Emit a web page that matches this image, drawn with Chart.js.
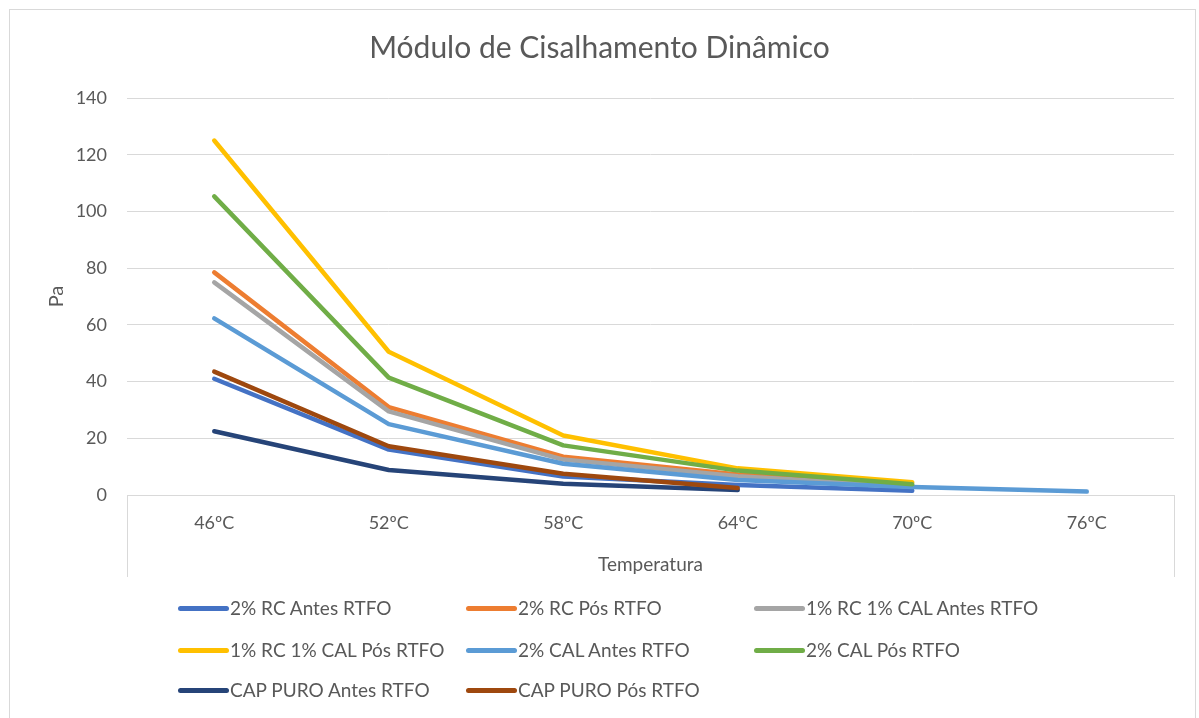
<!DOCTYPE html>
<html>
<head>
<meta charset="utf-8">
<script src="https://cdn.jsdelivr.net/npm/chart.js@4.4.0/dist/chart.umd.min.js"></script>
<style>
html,body{margin:0;padding:0;background:#fff;width:1199px;height:718px;overflow:hidden;font-family:Lato,sans-serif}
#frame{position:absolute;left:9px;top:9px;width:1187px;height:730px;border:1px solid #d9d9d9;box-sizing:border-box}
#wrap{position:absolute;left:0;top:0;width:1199px;height:718px}
#legend{position:absolute;left:0;top:0;width:1199px;height:718px;pointer-events:none}
.item{position:absolute;display:flex;align-items:center;color:#595959;font-size:19px;white-space:nowrap;height:24px;line-height:24px;transform:translateY(-50%)}
.swatch{width:51px;height:5px;border-radius:3px;margin-right:1px}
</style>
</head>
<body>
<div id="frame"></div>
<div id="wrap"><canvas id="c" width="1199" height="718"></canvas></div>
<div id="legend"></div>
<script>
// ---- data ----
const categories = ['46ºC', '52ºC', '58ºC', '64ºC', '70ºC', '76ºC'];
const seriesNames = [
  '2% RC Antes RTFO', '2% RC Pós RTFO', '1% RC 1% CAL Antes RTFO',
  '1% RC 1% CAL Pós RTFO', '2% CAL Antes RTFO', '2% CAL Pós RTFO',
  'CAP PURO Antes RTFO', 'CAP PURO Pós RTFO'
];
const rcAntes     = [41.0, 16.0, 6.5, 3.5, 1.5, null];
const rcPos       = [78.5, 31.0, 13.5, 7.2, 3.2, null];
const rcCalAntes  = [75.0, 29.5, 12.5, 6.6, 3.0, null];
const rcCalPos    = [125.0, 50.5, 21.0, 9.4, 4.5, null];
const calAntes    = [62.3, 25.0, 11.0, 5.3, 2.8, 1.2];
const calPos      = [105.3, 41.4, 17.5, 8.6, 3.8, null];
const capAntes    = [22.5, 8.8, 4.0, 1.8, null, null];
const capPos      = [43.5, 17.2, 7.5, 2.5, null, null];
const yTicks = [0, 20, 40, 60, 80, 100, 120, 140];

const seriesValues = [rcAntes, rcPos, rcCalAntes, rcCalPos, calAntes, calPos, capAntes, capPos];
const seriesColors = ['#4472C4', '#ED7D31', '#A5A5A5', '#FFC000', '#5B9BD5', '#70AD47', '#264478', '#9E480E'];

const FONT = 'Lato, "Open Sans", sans-serif';
const TXT = '#595959';
const GRID = '#d9d9d9';

const datasets = seriesNames.map((name, i) => ({
  label: name,
  data: seriesValues[i],
  borderColor: seriesColors[i],
  backgroundColor: seriesColors[i],
  borderWidth: 4.5,
  pointRadius: 0,
  pointHoverRadius: 0,
  tension: 0,
  fill: false,
  borderCapStyle: 'round',
  borderJoinStyle: 'round',
  order: seriesNames.length - i
}));

const chart = new Chart(document.getElementById('c'), {
  type: 'line',
  data: { labels: categories, datasets },
  options: {
    responsive: false,
    animation: false,
    devicePixelRatio: 1,
    layout: { padding: { left: 25, right: 25, top: 10, bottom: 142 } },
    plugins: {
      legend: { display: false },
      tooltip: { enabled: false },
      title: {
        display: true,
        text: 'Módulo de Cisalhamento Dinâmico',
        color: TXT,
        font: { family: FONT, size: 30, weight: 'normal' },
        padding: { top: 20, bottom: 32 }
      }
    },
    scales: {
      x: {
        offset: true,
        grid: {
          offset: true,
          drawOnChartArea: false,
          drawTicks: true,
          tickLength: 82,
          lineWidth: 1,
          color: ctx => (ctx.type !== 'tick' || ctx.index === 0) ? GRID : 'rgba(0,0,0,0)'
        },
        border: { display: true, color: GRID, width: 1 },
        ticks: { color: TXT, font: { family: FONT, size: 18 }, padding: -65, maxRotation: 0, autoSkip: false },
        title: { display: true, text: 'Temperatura', color: TXT, font: { family: FONT, size: 19 }, padding: { top: 0, bottom: 0 } },
        afterFit: s => { s.height = 81; }
      },
      y: {
        min: yTicks[0],
        max: yTicks[yTicks.length - 1],
        afterBuildTicks: s => { s.ticks = yTicks.map(v => ({ value: v })); },
        grid: { color: GRID, drawTicks: false, lineWidth: 1 },
        border: { display: false },
        ticks: { color: TXT, font: { family: FONT, size: 18 }, padding: 20 },
        title: { display: true, text: 'Pa', color: TXT, font: { family: FONT, size: 20 }, padding: { top: 20, bottom: 0 } },
        afterFit: s => { s.width = 102; }
      }
    }
  }
});

// HTML legend built from the chart's datasets
const colStarts = [178, 466, 754];
const rowCenters = [608, 650, 690];
const legend = document.getElementById('legend');
chart.data.datasets.forEach((ds, i) => {
  const item = document.createElement('div');
  item.className = 'item';
  item.style.left = colStarts[i % 3] + 'px';
  item.style.top = rowCenters[Math.floor(i / 3)] + 'px';
  const sw = document.createElement('span');
  sw.className = 'swatch';
  sw.style.background = ds.borderColor;
  const tx = document.createElement('span');
  tx.textContent = ds.label;
  item.appendChild(sw);
  item.appendChild(tx);
  legend.appendChild(item);
});
</script>
</body>
</html>
